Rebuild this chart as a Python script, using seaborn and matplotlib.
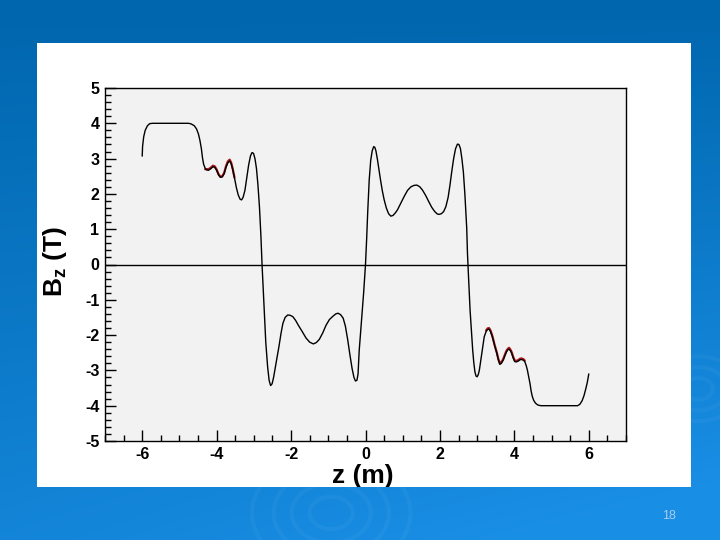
import numpy as np
import pandas as pd
import seaborn as sns
import matplotlib.pyplot as plt
from matplotlib.patches import Rectangle, Circle
from matplotlib.ticker import MultipleLocator

# field map Bz(z)
z = [-6.00, -5.99, -5.96, -5.92, -5.86, -5.80, -5.72, -5.20, -4.75, -4.68,
     -4.60, -4.54, -4.49, -4.45, -4.41, -4.38, -4.35, -4.31, -4.27, -4.22,
     -4.16, -4.10, -4.05, -4.00, -3.95, -3.90, -3.85, -3.80, -3.75, -3.70,
     -3.65, -3.61, -3.57, -3.52, -3.47, -3.42, -3.37, -3.33, -3.29, -3.24,
     -3.19, -3.14, -3.09, -3.05, -3.01, -2.97, -2.93, -2.89, -2.85, -2.81,
     -2.78, -2.76, -2.74, -2.72, -2.68, -2.63, -2.59, -2.55, -2.51, -2.47,
     -2.43, -2.38, -2.33, -2.27, -2.22, -2.16, -2.09, -2.02, -1.95, -1.88,
     -1.80, -1.70, -1.60, -1.50, -1.40, -1.32, -1.24, -1.15, -1.06, -0.97,
     -0.88, -0.80, -0.74, -0.67, -0.60, -0.54, -0.48, -0.42, -0.36, -0.31,
     -0.27, -0.23, -0.20, -0.17, -0.13, -0.09, -0.05, -0.02, 0.00, 0.03,
     0.06, 0.10, 0.14, 0.18, 0.22, 0.25, 0.28, 0.32, 0.36, 0.40,
     0.45, 0.50, 0.56, 0.62, 0.68, 0.74, 0.80, 0.86, 0.94, 1.04,
     1.13, 1.22, 1.30, 1.38, 1.46, 1.53, 1.62, 1.70, 1.78, 1.86,
     1.93, 1.98, 2.04, 2.10, 2.16, 2.22, 2.27, 2.32, 2.37, 2.42,
     2.47, 2.51, 2.55, 2.59, 2.63, 2.67, 2.70, 2.72, 2.74, 2.76,
     2.79, 2.81, 2.85, 2.88, 2.91, 2.94, 2.97, 3.00, 3.03, 3.06,
     3.10, 3.15, 3.19, 3.24, 3.28, 3.32, 3.36, 3.41, 3.47, 3.53,
     3.57, 3.61, 3.65, 3.70, 3.75, 3.79, 3.83, 3.86, 3.90, 3.93,
     3.97, 4.01, 4.05, 4.10, 4.15, 4.19, 4.24, 4.28, 4.32, 4.35,
     4.39, 4.42, 4.45, 4.48, 4.52, 4.57, 4.63, 4.71, 5.20, 5.70,
     5.76, 5.82, 5.87, 5.92, 5.96, 6.00]
bz = [3.07, 3.35, 3.62, 3.80, 3.93, 3.99, 4.00, 4.00, 4.00, 3.98,
      3.93, 3.84, 3.70, 3.52, 3.28, 3.02, 2.84, 2.73, 2.68, 2.67,
      2.71, 2.77, 2.75, 2.67, 2.54, 2.47, 2.48, 2.57, 2.75, 2.88,
      2.93, 2.86, 2.70, 2.45, 2.18, 1.97, 1.85, 1.83, 1.90, 2.10,
      2.45, 2.82, 3.08, 3.17, 3.15, 3.00, 2.72, 2.25, 1.64, 0.80,
      0.00, -0.44, -0.90, -1.38, -2.20, -2.90, -3.28, -3.43, -3.38, -3.20,
      -2.95, -2.65, -2.35, -1.95, -1.67, -1.50, -1.43, -1.44, -1.48, -1.58,
      -1.73, -1.90, -2.08, -2.20, -2.25, -2.21, -2.12, -1.94, -1.72, -1.56,
      -1.47, -1.40, -1.38, -1.42, -1.52, -1.75, -2.12, -2.55, -2.95, -3.20,
      -3.30, -3.28, -3.10, -2.45, -1.90, -1.38, -0.80, -0.30, 0.00, 0.70,
      1.50, 2.40, 2.95, 3.22, 3.34, 3.32, 3.22, 2.98, 2.70, 2.42,
      2.10, 1.84, 1.60, 1.44, 1.37, 1.39, 1.46, 1.55, 1.72, 1.93,
      2.10, 2.20, 2.24, 2.25, 2.20, 2.11, 1.95, 1.78, 1.62, 1.50,
      1.43, 1.42, 1.44, 1.50, 1.64, 1.90, 2.25, 2.65, 3.01, 3.28,
      3.41, 3.40, 3.29, 3.00, 2.62, 2.00, 1.40, 1.03, 0.32, -0.16,
      -0.80, -1.29, -1.95, -2.42, -2.78, -3.04, -3.16, -3.18, -3.12, -2.99,
      -2.70, -2.33, -2.05, -1.90, -1.84, -1.83, -1.90, -2.05, -2.30, -2.52,
      -2.70, -2.83, -2.80, -2.71, -2.57, -2.47, -2.41, -2.40, -2.45, -2.52,
      -2.65, -2.75, -2.76, -2.74, -2.70, -2.69, -2.71, -2.75, -2.87, -2.99,
      -3.20, -3.37, -3.58, -3.73, -3.85, -3.93, -3.98, -4.00, -4.00, -4.00,
      -3.96, -3.86, -3.72, -3.52, -3.34, -3.10]

# second (red) curve, only visible near the ripples
z_red = [-4.31, -4.27, -4.22, -4.16, -4.10, -4.05, -4.00, -3.95, -3.90, -3.85,
         -3.80, -3.75, -3.70, -3.65, -3.61, -3.57, -3.52,
         3.24, 3.28, 3.32, 3.36, 3.41, 3.47, 3.53, 3.57, 3.61, 3.65,
         3.70, 3.75, 3.79, 3.83, 3.86, 3.90, 3.93, 3.97, 4.01, 4.05,
         4.10, 4.15, 4.19, 4.24, 4.28]
bz_red = [2.70, 2.70, 2.70, 2.74, 2.80, 2.78, 2.69, 2.56, 2.49, 2.50,
          2.59, 2.78, 2.92, 2.97, 2.89, 2.72, 2.46,
          -1.87, -1.81, -1.80, -1.87, -2.03, -2.28, -2.50, -2.68, -2.80, -2.77,
          -2.68, -2.54, -2.44, -2.38, -2.36, -2.42, -2.49, -2.62, -2.72, -2.73,
          -2.71, -2.67, -2.66, -2.68, -2.72]
part_red = ['left'] * 17 + ['right'] * 25

df = pd.DataFrame({'z': z, 'bz': bz})
df_red = pd.DataFrame({'z': z_red, 'bz': bz_red, 'part': part_red})

sns.set_style('ticks')
plt.rcParams['font.family'] = ['Liberation Sans', 'DejaVu Sans']
plt.rcParams['mathtext.fontset'] = 'custom'
plt.rcParams['mathtext.rm'] = 'Liberation Sans'
plt.rcParams['mathtext.bf'] = 'Liberation Sans:bold'
plt.rcParams['axes.unicode_minus'] = False
plt.rcParams['text.color'] = 'black'
plt.rcParams['xtick.color'] = 'black'
plt.rcParams['ytick.color'] = 'black'

fig = plt.figure(figsize=(7.2, 5.4), dpi=100)

# slide background
bg = fig.add_axes([0, 0, 1, 1], zorder=-10)
yy, xx = np.mgrid[0:1:200j, 0:1:200j]
t = np.clip(0.75 * yy + 0.35 * xx * yy, 0, 1)
c0 = np.array([0.0, 0.40, 0.68])
c1 = np.array([0.10, 0.56, 0.90])
img = c0 + (c1 - c0) * t[..., None]
bg.imshow(img, extent=[0, 1, 0, 1], aspect='auto', origin='upper')
for cx, cy, rs in [(0.46, 0.05, [0.03, 0.055, 0.08, 0.11]), (0.97, 0.28, [0.02, 0.04, 0.06])]:
    for r in rs:
        bg.add_patch(Circle((cx, cy), r, transform=bg.transAxes, fill=False,
                            ec='white', lw=3, alpha=0.035))
white = Rectangle((37 / 720, 1 - 487 / 540), 654 / 720, 444 / 540,
                  transform=bg.transAxes, facecolor='white', edgecolor='none')
bg.add_patch(white)
bg.set_xlim(0, 1)
bg.set_ylim(0, 1)
bg.axis('off')

ax = fig.add_axes([105 / 720, 1 - 441 / 540, 521 / 720, 353 / 540])
ax.set_facecolor('#f2f2f2')

sns.lineplot(data=df_red, x='z', y='bz', units='part', estimator=None, sort=False,
             color='#b01818', lw=1.6, ax=ax)
sns.lineplot(data=df, x='z', y='bz', estimator=None, sort=False,
             color='black', lw=1.0, ax=ax)
ax.axhline(0, color='black', lw=1.0)

ax.set_xlim(-7, 7)
ax.set_ylim(-5, 5)
ax.set_xticks(range(-6, 7, 2))
ax.set_yticks(range(-5, 6))
ax.xaxis.set_minor_locator(MultipleLocator(0.5))
ax.yaxis.set_minor_locator(MultipleLocator(0.2))
ax.tick_params(which='major', direction='in', length=8, width=1, color='black',
               labelcolor='black', labelsize=11.5, pad=4, top=False, right=False)
ax.tick_params(which='minor', direction='in', length=4, width=1, color='black',
               top=False, right=False)
for lab in ax.get_xticklabels() + ax.get_yticklabels():
    lab.set_fontweight('bold')
ax.set_xlabel('')
ax.set_ylabel('')
for s in ax.spines.values():
    s.set_color('black')
    s.set_linewidth(1)

xl = fig.text(363 / 720, 1 - 476 / 540, 'z (m)', fontsize=19, fontweight='bold',
              ha='center', va='center', color='black')
xl.set_clip_path(white)
fig.text(55 / 720, 1 - 262 / 540, r'$\mathbf{B_z}$ (T)', fontsize=19, fontweight='bold',
         rotation=90, ha='center', va='center', color='black')
fig.text(669 / 720, 1 - 516 / 540, '18', fontsize=9, color='#a8cdf0',
         ha='center', va='center')

fig.savefig('out.png', dpi=100)
